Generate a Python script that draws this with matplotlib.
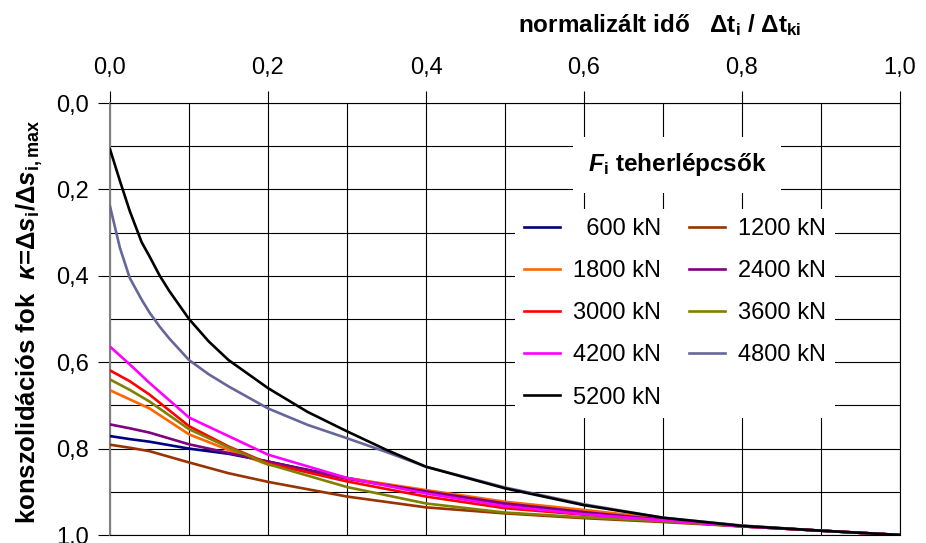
import matplotlib
matplotlib.use('agg')
import matplotlib.pyplot as plt
from matplotlib.ticker import MultipleLocator, FuncFormatter

## Data (consolidation degree vs normalized time)
x_low = [0, 0.025, 0.05, 0.1, 0.15, 0.2, 0.3, 0.4, 0.5, 0.6, 0.7, 0.8, 0.9, 1.0]
k_600 = [0.771, 0.778, 0.784, 0.800, 0.812, 0.830, 0.868, 0.900, 0.928, 0.948, 0.965, 0.979, 0.990, 1.0]
k_1200 = [0.791, 0.798, 0.806, 0.832, 0.857, 0.877, 0.911, 0.936, 0.950, 0.961, 0.970, 0.980, 0.990, 1.0]
k_1800 = [0.665, 0.686, 0.707, 0.767, 0.803, 0.837, 0.868, 0.896, 0.923, 0.942, 0.962, 0.979, 0.990, 1.0]
k_2400 = [0.744, 0.753, 0.763, 0.790, 0.810, 0.830, 0.870, 0.899, 0.927, 0.947, 0.965, 0.980, 0.990, 1.0]
k_3000 = [0.619, 0.644, 0.675, 0.748, 0.795, 0.834, 0.876, 0.911, 0.938, 0.953, 0.967, 0.980, 0.990, 1.0]
k_3600 = [0.640, 0.664, 0.691, 0.755, 0.797, 0.836, 0.889, 0.927, 0.948, 0.959, 0.968, 0.980, 0.990, 1.0]
k_4200 = [0.564, 0.605, 0.648, 0.728, 0.771, 0.814, 0.868, 0.904, 0.933, 0.952, 0.966, 0.980, 0.990, 1.0]

x_high = [0, 0.0125, 0.025, 0.04, 0.05, 0.063, 0.075, 0.1, 0.125, 0.15, 0.2, 0.25, 0.3, 0.35, 0.4, 0.5, 0.6, 0.7, 0.8, 0.9, 1.0]
k_4800 = [0.239, 0.335, 0.405, 0.455, 0.485, 0.518, 0.545, 0.595, 0.628, 0.656, 0.707, 0.745, 0.776, 0.808, 0.842, 0.890, 0.929, 0.960, 0.978, 0.990, 1.0]
k_5200 = [0.107, 0.180, 0.250, 0.322, 0.355, 0.400, 0.435, 0.500, 0.552, 0.595, 0.660, 0.715, 0.760, 0.803, 0.842, 0.892, 0.931, 0.960, 0.979, 0.990, 1.0]

labels = ['  600 kN', '1200 kN', '1800 kN', '2400 kN', '3000 kN',
          '3600 kN', '4200 kN', '4800 kN', '5200 kN']
colors = ['#000080', '#993300', '#FF6600', '#800080', '#FF0000',
          '#808000', '#FF00FF', '#666699', '#000000']

plt.rcParams['font.family'] = ['Liberation Sans', 'DejaVu Sans']
plt.rcParams['mathtext.fontset'] = 'custom'
plt.rcParams['mathtext.rm'] = 'Liberation Sans'
plt.rcParams['mathtext.it'] = 'Liberation Sans:italic'
plt.rcParams['mathtext.bf'] = 'Liberation Sans:bold'
plt.rcParams['mathtext.bfit'] = 'Liberation Sans:bold:italic'

fig = plt.figure(figsize=(9.26, 5.43), dpi=100)
ax = fig.add_axes([110/926, 1-535/543, 790/926, 432/543])

series = [(x_low, k_600), (x_low, k_1200), (x_low, k_1800), (x_low, k_2400),
          (x_low, k_3000), (x_low, k_3600), (x_low, k_4200),
          (x_high, k_4800), (x_high, k_5200)]
lines = []
for (xs, ys), lab, c in zip(series, labels, colors):
    ln, = ax.plot(xs, ys, color=c, lw=1.9, label=lab, zorder=3)
    lines.append(ln)

ax.set_xlim(0, 1)
ax.set_ylim(1, 0)
ax.xaxis.tick_top()
ax.xaxis.set_major_locator(MultipleLocator(0.2))
ax.yaxis.set_major_locator(MultipleLocator(0.2))
ax.xaxis.set_minor_locator(MultipleLocator(0.1))
ax.yaxis.set_minor_locator(MultipleLocator(0.1))
fmt = FuncFormatter(lambda v, p: ('%.1f' % v).replace('.', ','))
ax.xaxis.set_major_formatter(fmt)
ax.yaxis.set_major_formatter(fmt)
ax.tick_params(which='major', length=9, width=0.8, color='black',
               labelsize=17)
ax.tick_params(axis='x', pad=8)
ax.tick_params(axis='y', pad=6)
ax.tick_params(which='minor', length=0)
ax.grid(True, which='both', color='black', lw=0.8, zorder=1)

for s in ax.spines.values():
    s.set_color('black')
    s.set_linewidth(0.8)
ax.spines['left'].set_color('#808080')
ax.spines['left'].set_linewidth(1.5)

# x axis title (top right)
fig.text(518/926, 1-25/543,
         'normalizált idő   ' + r'$\mathbf{\Delta t}_{\mathbf{i}}$' + ' / ' + r'$\mathbf{\Delta t}_{\mathbf{ki}}$',
         fontsize=17.5, fontweight='bold', ha='left', va='center')

# y axis title
fig.text(30/926, 1-322/543,
         'konszolidációs fok  ' + r'$\mathbfit{\kappa}$' + '=Δ' + r'$\mathbfit{s}_{\mathbf{i}}$'
         + '/Δ' + r'$\mathbfit{s}_{\mathbf{i,max}}$',
         fontsize=18.5, fontweight='bold', rotation=90, ha='center', va='center')

# legend title box
fig.text(677/926, 1-165/543, r'$\mathbfit{F}_{\mathbf{i}}$ teherlépcsők',
         fontsize=17.5, fontweight='bold', ha='center', va='center', zorder=5,
         bbox=dict(boxstyle='square,pad=0.6', fc='white', ec='none'))

order = [0, 2, 4, 6, 8, 1, 3, 5, 7]
leg = ax.legend([lines[i] for i in order], [labels[i] for i in order],
                ncol=2, loc='upper left', bbox_to_anchor=(503/926, 1-197/543),
                bbox_transform=fig.transFigure, fontsize=17,
                frameon=True, fancybox=False, framealpha=1,
                handlelength=1.5, handletextpad=0.55, columnspacing=1.2,
                labelspacing=0.85, borderpad=0.4)
leg.get_frame().set_facecolor('white')
leg.get_frame().set_edgecolor('none')
leg.set_zorder(6)

plt.savefig('out.png', dpi=100)
